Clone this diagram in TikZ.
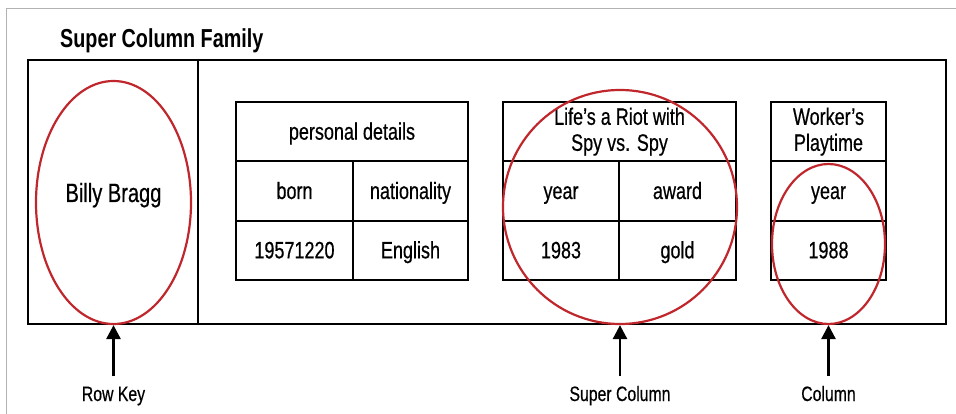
\documentclass[tikz,border=0pt]{standalone}
\usepackage{fontspec}
\setmainfont{Liberation Sans}[FakeStretch=0.76, UprightFeatures={FakeBold=0.5}]
\usepackage{tikz}
\usetikzlibrary{arrows.meta,shapes.geometric,positioning}
\definecolor{ovalred}{RGB}{192,39,45}

\begin{document}
\begin{tikzpicture}[
    x=1pt, y=-1pt,
    frame/.style={draw, line width=2.7pt, outer sep=0pt, inner sep=0pt, minimum height=264pt},
    cell/.style={draw, line width=2.3pt, outer sep=0pt, inner sep=0pt, minimum height=59.33pt, align=center, font=\fontsize{23.7}{26}\selectfont},
    onerow/.style={cell, text height=19pt, text depth=3pt},
    oval/.style={draw=ovalred, line width=2.2pt, ellipse, inner sep=0pt},
    tag/.style={font=\fontsize{20.8}{22}\selectfont, inner sep=0pt, anchor=base},
    pointer/.style={-{Triangle[length=14pt, width=14pt]}, line width=2.7pt}
]
\useasboundingbox (0,0) rectangle (956,414);
\draw[gray!60, line width=1pt] (6,414) -- (6,9) -- (956,9);

\node[font=\bfseries\fontsize{26}{28}\selectfont, anchor=base west, inner sep=0pt] (title) at (60,48) {Super Column Family};

\node[frame, minimum width=170pt, anchor=north west] (keybox) at (28,60) {};
\node[frame, minimum width=748pt, anchor=north west] (rowbox) at (keybox.north east) {};

% personal details
\node[onerow, minimum width=232pt, anchor=north west] (pd) at (236,102) {personal details};
\node[onerow, minimum width=117pt, anchor=north west] (born) at (pd.south west) {born};
\node[onerow, minimum width=115pt, anchor=north west] (nat) at (born.north east) {nationality};
\node[onerow, minimum width=117pt, anchor=north west] (bornval) at (born.south west) {19571220};
\node[onerow, minimum width=115pt, anchor=north west] (natval) at (bornval.north east) {English};

% Life's a Riot with Spy vs. Spy
\node[cell, minimum width=233pt, anchor=north west] (riot) at (503,102) {Life’s a Riot with\\Spy vs. Spy};
\node[onerow, minimum width=116pt, anchor=north west] (year) at (riot.south west) {year};
\node[onerow, minimum width=117pt, anchor=north west] (award) at (year.north east) {award};
\node[onerow, minimum width=116pt, anchor=north west] (yearval) at (year.south west) {1983};
\node[onerow, minimum width=117pt, anchor=north west] (awardval) at (yearval.north east) {gold};

% Worker's Playtime
\node[cell, minimum width=115pt, anchor=north west] (wp) at (771,102) {Worker’s\\Playtime};
\node[onerow, minimum width=115pt, anchor=north west] (wpyear) at (wp.south west) {year};
\node[onerow, minimum width=115pt, anchor=north west] (wpval) at (wpyear.south west) {1988};

\node[oval, minimum width=155pt, minimum height=243pt] (rowkey) at (113.5,202.5) {};
\node[font=\fontsize{26.4}{28}\selectfont, anchor=base] (billy) at (113.5,202) {Billy Bragg};
\node[oval, minimum width=234pt, minimum height=234pt] (supercol) at (620,207) {};
\node[oval, minimum width=113pt, minimum height=160pt] (col) at (828.5,244) {};

\node[tag] (rowkeytag) at (113.5,401) {Row Key};
\node[tag] (supertag) at (620,401) {Super Column};
\node[tag] (coltag) at (828.5,401) {Column};

\draw[pointer] ([yshift=10pt]rowkeytag.north) -- (rowkey.south);
\draw[pointer] ([yshift=10pt]supertag.north) -- (supercol.south);
\draw[pointer] ([yshift=10pt]coltag.north) -- (col.south);
\end{tikzpicture}
\end{document}
